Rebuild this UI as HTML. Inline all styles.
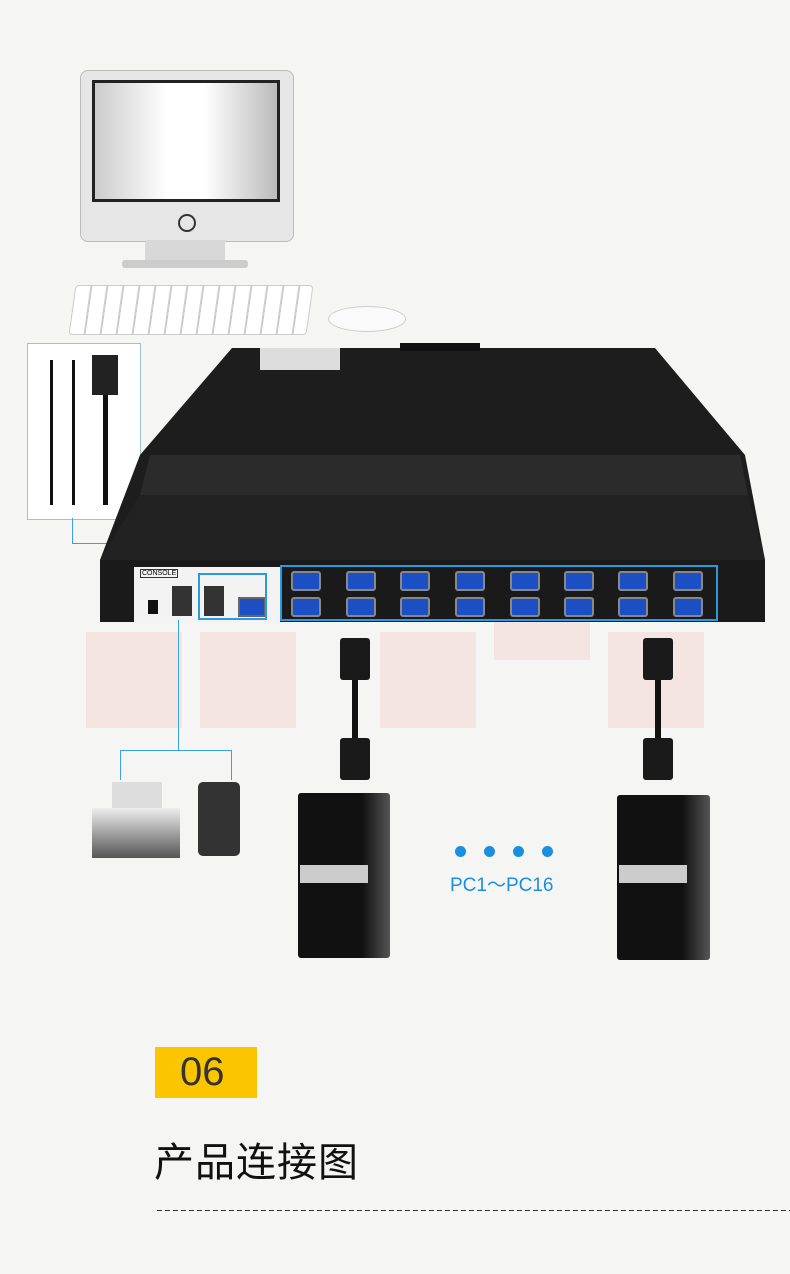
<!DOCTYPE html>
<html><head><meta charset="utf-8"><style>
body{margin:0;width:790px;height:1274px;background:#f5f5f4;position:relative;overflow:hidden;font-family:"Liberation Sans","Noto Sans CJK SC",sans-serif}
.a{position:absolute}
.port{position:absolute;width:26px;height:16px;background:#1d4fc4;border:2px solid #888;border-radius:3px}
</style></head><body>
<div class="a" style="left:86px;top:632px;width:96px;height:96px;background:#f4e4e2"></div>
<div class="a" style="left:200px;top:632px;width:96px;height:96px;background:#f4e4e2"></div>
<div class="a" style="left:380px;top:632px;width:96px;height:96px;background:#f4e4e2"></div>
<div class="a" style="left:494px;top:600px;width:96px;height:60px;background:#f4e4e2"></div>
<div class="a" style="left:608px;top:632px;width:96px;height:96px;background:#f4e4e2"></div>
<div class="a" style="left:80px;top:70px;width:212px;height:170px;background:#e6e6e6;border-radius:8px;border:1px solid #bbb"></div>
<div class="a" style="left:92px;top:80px;width:188px;height:122px;background:#222"></div>
<div class="a" style="left:95px;top:83px;width:182px;height:116px;background:linear-gradient(90deg,#ccc,#fff 40%,#fff 60%,#bbb)"></div>
<div class="a" style="left:145px;top:240px;width:80px;height:22px;background:#d8d8d8"></div>
<div class="a" style="left:122px;top:260px;width:126px;height:8px;background:#ccc;border-radius:3px"></div>
<div class="a" style="left:178px;top:214px;width:14px;height:14px;border:2px solid #333;border-radius:50%"></div>
<div class="a" style="left:72px;top:285px;width:236px;height:48px;background:repeating-linear-gradient(90deg,#fff 0 14px,#ccc 14px 16px);border:1px solid #ccc;border-radius:4px;transform:skewX(-8deg)"></div>
<div class="a" style="left:328px;top:306px;width:76px;height:24px;background:#fafafa;border:1px solid #ccc;border-radius:50%"></div>
<div class="a" style="left:27px;top:343px;width:112px;height:175px;border:1px solid #9fc0d8;background:#fff"></div>
<div class="a" style="left:50px;top:360px;width:3px;height:145px;background:#111"></div>
<div class="a" style="left:72px;top:360px;width:3px;height:145px;background:#111"></div>
<div class="a" style="left:103px;top:360px;width:5px;height:145px;background:#111"></div>
<div class="a" style="left:92px;top:355px;width:26px;height:40px;background:#222"></div>
<div class="a" style="left:72px;top:518px;width:1px;height:25px;background:#3aa0e0"></div>
<div class="a" style="left:72px;top:543px;width:160px;height:1px;background:#3aa0e0"></div>
<div class="a" style="left:231px;top:543px;width:1px;height:30px;background:#3aa0e0"></div>
<svg class="a" style="left:0;top:0" width="790" height="640">
<polygon points="232,348 655,348 745,455 765,560 100,560 140,455" fill="#1d1d1d"/>
<polygon points="150,455 740,455 748,495 140,495" fill="#2b2b2b"/>
<polygon points="140,495 748,495 765,560 100,560" fill="#222"/>
<rect x="400" y="343" width="80" height="8" fill="#111"/>
<rect x="260" y="348" width="80" height="22" fill="#ddd"/>
<rect x="100" y="560" width="665" height="62" fill="#1a1a1a"/>
<rect x="134" y="567" width="146" height="55" fill="#f3f3f3"/>
</svg>
<div class="a" style="left:140px;top:569px;font-size:7px;border:1px solid #333;padding:0 1px">CONSOLE</div>
<div class="a" style="left:148px;top:600px;width:10px;height:14px;background:#111"></div>
<div class="a" style="left:172px;top:586px;width:20px;height:30px;background:#333"></div>
<div class="a" style="left:204px;top:586px;width:20px;height:30px;background:#333"></div>
<div class="a" style="left:238px;top:597px;width:24px;height:16px;background:#1d4fc4;border:2px solid #666"></div>
<div class="a" style="left:198px;top:573px;width:69px;height:47px;border:2px solid #2a9ae0;box-sizing:border-box"></div>
<div class="a" style="left:280px;top:565px;width:438px;height:56px;border:2px solid #2a9ae0;box-sizing:border-box"></div>
<div class="port" style="left:291px;top:571px"></div><div class="port" style="left:346px;top:571px"></div><div class="port" style="left:400px;top:571px"></div><div class="port" style="left:455px;top:571px"></div><div class="port" style="left:510px;top:571px"></div><div class="port" style="left:564px;top:571px"></div><div class="port" style="left:618px;top:571px"></div><div class="port" style="left:673px;top:571px"></div>
<div class="port" style="left:291px;top:597px"></div><div class="port" style="left:346px;top:597px"></div><div class="port" style="left:400px;top:597px"></div><div class="port" style="left:455px;top:597px"></div><div class="port" style="left:510px;top:597px"></div><div class="port" style="left:564px;top:597px"></div><div class="port" style="left:618px;top:597px"></div><div class="port" style="left:673px;top:597px"></div>
<div class="a" style="left:178px;top:620px;width:1px;height:130px;background:#3aa0e0"></div>
<div class="a" style="left:120px;top:750px;width:112px;height:1px;background:#3aa0e0"></div>
<div class="a" style="left:120px;top:750px;width:1px;height:30px;background:#3aa0e0"></div>
<div class="a" style="left:231px;top:750px;width:1px;height:30px;background:#3aa0e0"></div>
<div class="a" style="left:340px;top:638px;width:30px;height:42px;background:#1a1a1a;border-radius:3px"></div>
<div class="a" style="left:352px;top:680px;width:6px;height:60px;background:#111"></div>
<div class="a" style="left:340px;top:738px;width:30px;height:42px;background:#1a1a1a;border-radius:3px"></div>
<div class="a" style="left:643px;top:638px;width:30px;height:42px;background:#1a1a1a;border-radius:3px"></div>
<div class="a" style="left:655px;top:680px;width:6px;height:60px;background:#111"></div>
<div class="a" style="left:643px;top:738px;width:30px;height:42px;background:#1a1a1a;border-radius:3px"></div>
<div class="a" style="left:112px;top:782px;width:50px;height:30px;background:#ddd"></div>
<div class="a" style="left:92px;top:808px;width:88px;height:50px;background:linear-gradient(#eee,#555)"></div>
<div class="a" style="left:198px;top:782px;width:42px;height:74px;background:#333;border-radius:5px"></div>
<div class="a" style="left:298px;top:793px;width:92px;height:165px;background:linear-gradient(90deg,#111 70%,#555);border-radius:3px"></div>
<div class="a" style="left:300px;top:865px;width:68px;height:18px;background:#ccc"></div>
<div class="a" style="left:617px;top:795px;width:93px;height:165px;background:linear-gradient(90deg,#111 70%,#555);border-radius:3px"></div>
<div class="a" style="left:619px;top:865px;width:68px;height:18px;background:#ccc"></div>
<div class="a" style="left:455px;top:846px;width:11px;height:11px;border-radius:50%;background:#1a8fe0"></div>
<div class="a" style="left:484px;top:846px;width:11px;height:11px;border-radius:50%;background:#1a8fe0"></div>
<div class="a" style="left:513px;top:846px;width:11px;height:11px;border-radius:50%;background:#1a8fe0"></div>
<div class="a" style="left:542px;top:846px;width:11px;height:11px;border-radius:50%;background:#1a8fe0"></div>
<div class="a" style="left:450px;top:870px;font-size:19px;color:#1a8fe0;white-space:nowrap">PC1～PC16</div>
<div class="a" style="left:155px;top:1047px;width:102px;height:51px;background:#fbc600"></div>
<div class="a" style="left:180px;top:1050px;font-size:40px;color:#333">06</div>
<div class="a" style="left:154px;top:1130px;font-size:40px;color:#111;letter-spacing:1px">产品连接图</div>
<div class="a" style="left:157px;top:1210px;width:633px;height:1px;background:repeating-linear-gradient(90deg,#333 0 5px,transparent 5px 8px)"></div>
</body></html>
